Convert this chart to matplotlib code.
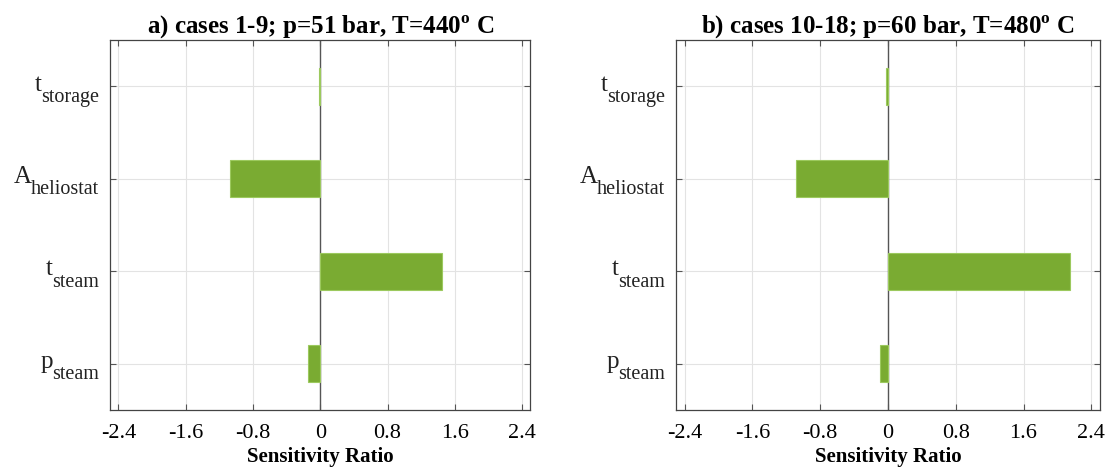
import numpy as np
import matplotlib
matplotlib.use('Agg')
import matplotlib.pyplot as plt

plt.rcParams['font.family'] = 'Liberation Serif'
plt.rcParams['mathtext.fontset'] = 'custom'
plt.rcParams['mathtext.rm'] = 'Liberation Serif'
plt.rcParams['mathtext.bf'] = 'Liberation Serif:bold'

# Data
param_main = ['p', 't', 'A', 't']
param_sub = ['steam', 'steam', 'heliostat', 'storage']
ratio_a = [-0.15, 1.45, -1.07, -0.02]
ratio_b = [-0.09, 2.15, -1.08, -0.02]
titles = [r'a) cases 1-9; p=51 bar, T=440$^{\mathbf{o}}$ C',
          r'b) cases 10-18; p=60 bar, T=480$^{\mathbf{o}}$ C']
xticks_vals = [-2.4, -1.6, -0.8, 0, 0.8, 1.6, 2.4]
xtick_labels = ['-2.4', '-1.6', '-0.8', '0', '0.8', '1.6', '2.4']

bar_color = '#7aab32'

fig = plt.figure(figsize=(11.12, 4.68), dpi=100)
ax1 = fig.add_axes([0.099, 0.124, 0.378, 0.79])
ax2 = fig.add_axes([0.608, 0.124, 0.381, 0.79])

ypos = np.arange(1, len(param_main) + 1)

for ax, vals, ttl in zip([ax1, ax2], [ratio_a, ratio_b], titles):
    ax.barh(ypos, vals, height=0.4, color=bar_color, edgecolor='#9cc95e',
            linewidth=0.8, zorder=3)
    ax.axvline(0, color='#555555', linewidth=1.0, zorder=2.5)
    ax.set_xlim(-2.5, 2.5)
    ax.set_ylim(0.5, 4.5)
    ax.set_xticks(xticks_vals)
    ax.set_xticklabels(xtick_labels, fontsize=16)
    ax.set_yticks(ypos)
    ax.set_yticklabels([])
    ax.grid(True, color='#e3e3e3', linewidth=0.8, zorder=0)
    ax.tick_params(direction='in', top=True, right=True, length=4,
                   color='#555555')
    ax.tick_params(axis='x', pad=10)
    for s in ax.spines.values():
        s.set_color('#444444')
        s.set_linewidth(0.9)
    ax.set_title(ttl, fontsize=18, fontweight='bold', pad=5)
    ax.set_xlabel('Sensitivity Ratio', fontsize=15, fontweight='bold',
                  labelpad=3)

    # y labels with MATLAB-like subscripts
    for y, m, sname in zip(ypos, param_main, param_sub):
        sub = ax.annotate(sname, xy=(0, y),
                          xycoords=('axes fraction', 'data'),
                          xytext=(-8, -11), textcoords='offset points',
                          ha='right', va='baseline', fontsize=14.5,
                          color='#222222')
        ax.annotate(m, xy=(0, y), xycoords=(sub, ax.get_yaxis_transform()),
                    xytext=(0.5, -3), textcoords='offset points',
                    ha='right', va='baseline', fontsize=18, color='#222222')

plt.savefig('out.png', dpi=100)
